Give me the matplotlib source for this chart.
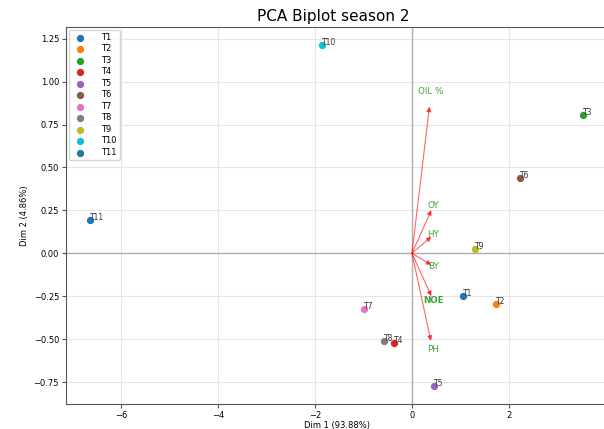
import matplotlib.pyplot as plt

# treatment scores on the first two PCs
treatments = ["T1", "T2", "T3", "T4", "T5", "T6", "T7", "T8", "T9", "T10", "T11"]
dim1 = [1.05, 1.74, 3.52, -0.37, 0.45, 2.23, -0.99, -0.58, 1.30, -1.86, -6.64]
dim2 = [-0.249, -0.297, 0.805, -0.524, -0.773, 0.44, -0.326, -0.51, 0.027, 1.213, 0.194]

# variable loadings (arrow tips)
variables = ["OIL %", "OY", "HY", "BY", "NOE", "PH"]
load1 = [0.36, 0.40, 0.40, 0.40, 0.40, 0.39]
load2 = [0.854, 0.252, 0.097, -0.068, -0.25, -0.51]

colors = ["#1f77b4", "#ff7f0e", "#2ca02c", "#d62728", "#9467bd", "#8c564b",
          "#e377c2", "#7f7f7f", "#bcbd22", "#17becf", "#1f77b4"]


def main() -> None:
    fig = plt.figure(figsize=(6.04, 4.29), dpi=100)
    ax = fig.add_axes([66 / 604, 1 - 404 / 429, 542 / 604, 377 / 429])

    ax.grid(True, color="#e6e6e6", linewidth=0.8)
    ax.set_axisbelow(True)
    ax.axhline(0, color="#b0b0b0", linewidth=1.0)
    ax.axvline(0, color="#b0b0b0", linewidth=1.0)

    for name, x, y, c in zip(treatments, dim1, dim2, colors):
        ax.scatter(x, y, s=18, color=c, label=name, zorder=3)
        ax.text(x, y, name, fontsize=5.5, color="#333333", zorder=4)

    for name, x, y in zip(variables, load1, load2):
        ax.annotate("", xy=(x, y), xytext=(0, 0),
                    arrowprops=dict(arrowstyle="-|>", color="red", lw=0.8,
                                    alpha=0.6, mutation_scale=7, shrinkA=0, shrinkB=0))
        ax.text(x * 1.1, y * 1.1, name, color="#3aa83a", fontsize=6.3,
                ha="center", va="center",
                fontweight="bold" if name == "NOE" else "normal")

    ax.set_xlim(-7.13, 4.04)
    ax.set_ylim(-0.878, 1.318)
    ax.set_xticks([-6, -4, -2, 0, 2])
    ax.set_yticks([-0.75, -0.5, -0.25, 0, 0.25, 0.5, 0.75, 1.0, 1.25])
    ax.tick_params(labelsize=6, length=3, pad=2, color="#555555")
    for side in ["left", "bottom", "top", "right"]:
        ax.spines[side].set_color("#555555")

    ax.set_xlabel("Dim 1 (93.88%)", fontsize=6, labelpad=1)
    ax.set_ylabel("Dim 2 (4.86%)", fontsize=6, labelpad=3)
    ax.set_title("PCA Biplot season 2", fontsize=11, x=(333.7 - 66) / 542, pad=4)
    ax.legend(loc="upper left", fontsize=6, markerscale=1.0, handletextpad=1.5,
              borderaxespad=0.3, labelspacing=0.3)

    fig.savefig("out.png", dpi=100)


if __name__ == "__main__":
    main()
